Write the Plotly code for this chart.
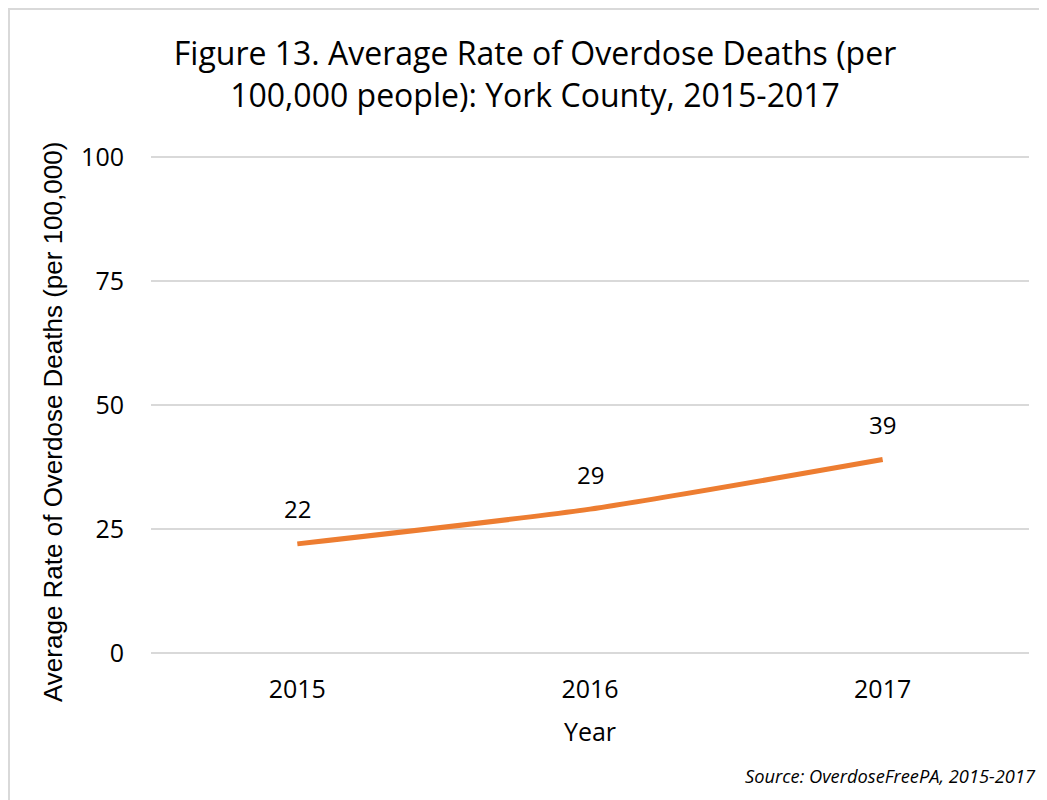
import plotly.graph_objects as go

years = ["2015", "2016", "2017"]
rates = [22, 29, 39]
y_ticks = [0, 25, 50, 75, 100]

FONT = "Open Sans, sans-serif"
W, H = 1039, 792
L, R, T, B = 143, 18, 144, 147
PW, PH = W - L - R, H - T - B

fig = go.Figure()
fig.add_trace(go.Scatter(
    x=list(range(len(years))), y=rates, mode="lines",
    line=dict(color="#ED7D31", width=5, shape="spline", smoothing=0.6),
    hoverinfo="skip", showlegend=False,
))

annotations = [dict(x=i, y=v, xref="x", yref="y", text=str(v), showarrow=False,
                    yshift=35, font=dict(family=FONT, size=24, color="#000000"))
               for i, v in enumerate(rates)]
annotations.append(dict(
    text="<i>Source: OverdoseFreePA, 2015-2017</i>", xref="paper", yref="paper",
    x=(W - 9 - L) / PW, y=-(767 - (T + PH)) / PH,
    xanchor="right", yanchor="middle", showarrow=False,
    font=dict(family=FONT, size=18.3, color="#000000"),
))
annotations.append(dict(
    text="Average Rate of Overdose Deaths (per 100,000)", xref="paper", yref="paper",
    x=(45 - L) / PW, y=(T + PH - 414) / PH, textangle=-90,
    xanchor="center", yanchor="middle", showarrow=False,
    font=dict(family="Liberation Sans, Arial, sans-serif", size=26, color="#000000"),
))

fig.update_layout(
    width=W, height=H,
    margin=dict(l=L, r=R, t=T, b=B),
    paper_bgcolor="white", plot_bgcolor="white",
    font=dict(family=FONT, size=25, color="#000000"),
    title=dict(
        text="Figure 13. Average Rate of Overdose Deaths (per<br>100,000 people): York County, 2015-2017",
        x=527 / W, xanchor="center", y=1 - 57 / H, yanchor="middle",
        font=dict(family=FONT, size=32, color="#000000"),
    ),
    xaxis=dict(
        range=[-0.5, 2.5], tickmode="array", tickvals=list(range(len(years))), ticktext=years,
        showgrid=False, zeroline=False, showline=False, ticks="",
        tickfont=dict(size=25), ticklabelstandoff=19,
        title=dict(text="Year", font=dict(size=25), standoff=19),
    ),
    yaxis=dict(
        range=[0, 101], tickvals=y_ticks, showgrid=True, gridcolor="#D9D9D9", gridwidth=2,
        zeroline=True, zerolinecolor="#D9D9D9", zerolinewidth=2, showline=False, ticks="",
        tickfont=dict(size=25), ticklabelstandoff=26,
    ),
    shapes=[dict(type="rect", xref="paper", yref="paper",
                 x0=-(L - 1) / PW, x1=1 + (R + 20) / PW,
                 y0=-(B + 20) / PH, y1=1 + (T - 1) / PH,
                 line=dict(color="#D9D9D9", width=2), layer="below")],
    annotations=annotations,
)

fig.write_html("out.html")
